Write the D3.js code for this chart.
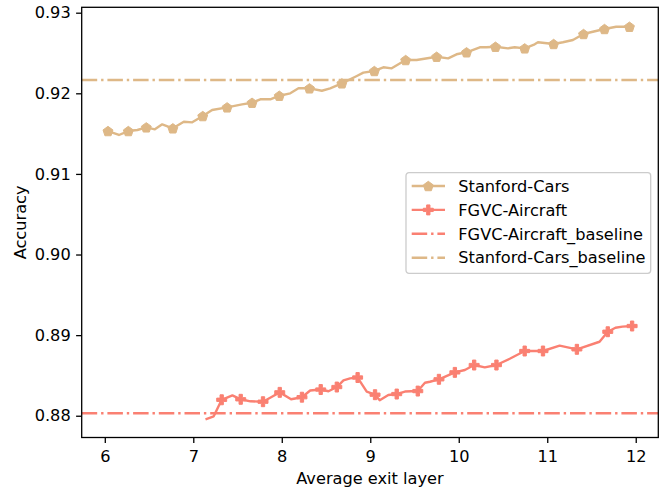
<!DOCTYPE html>
<html>
<head>
<meta charset="utf-8">
<script src="https://cdn.jsdelivr.net/npm/d3@7"></script>
<style>
  body { margin: 0; background: #fff; }
  text { font-family: "DejaVu Sans", sans-serif; }
</style>
</head>
<body>
<div class="draw"></div>
<script>
// Stanford-Cars curve (m = 1 where a marker is drawn)
var carsX = [6.036, 6.160, 6.266, 6.368, 6.469, 6.566, 6.649, 6.769, 6.893, 6.988, 7.107, 7.213, 7.382, 7.551,
    7.664, 7.758, 7.871, 7.972, 8.096, 8.189, 8.313, 8.453, 8.547, 8.679, 8.848, 8.922, 9.046, 9.148, 9.242,
    9.400, 9.524, 9.750, 9.880, 9.975, 10.088, 10.238, 10.313, 10.415, 10.557, 10.632, 10.745, 10.858, 10.895,
    11.072, 11.177, 11.290, 11.410, 11.515, 11.647, 11.779, 11.929];
var carsY = [0.91532, 0.91483, 0.91532, 0.91545, 0.91578, 0.91553, 0.91615, 0.91566, 0.91648, 0.91640, 0.91718,
    0.91793, 0.91826, 0.91863, 0.91883, 0.91926, 0.91926, 0.91970, 0.92000, 0.92062, 0.92062, 0.92032, 0.92062,
    0.92124, 0.92215, 0.92256, 0.92277, 0.92323, 0.92310, 0.92413, 0.92413, 0.92454, 0.92434, 0.92484, 0.92509,
    0.92571, 0.92571, 0.92578, 0.92558, 0.92571, 0.92558, 0.92608, 0.92633, 0.92612, 0.92633, 0.92661, 0.92736,
    0.92764, 0.92798, 0.92826, 0.92826];
var carsM = [1, 0, 1, 0, 1, 0, 0, 1, 0, 0, 1, 0, 1, 0, 1, 0, 0, 1, 0, 0, 1, 0, 0, 1, 0, 0, 1, 0, 0, 1, 0, 1, 0, 0, 1,
    0, 0, 1, 0, 0, 1, 0, 0, 1, 0, 0, 1, 0, 1, 0, 1];

// FGVC-Aircraft curve
var airX = [7.138, 7.231, 7.321, 7.442, 7.536, 7.645, 7.788, 7.889, 7.977, 8.105, 8.228, 8.321, 8.440, 8.528,
    8.622, 8.697, 8.772, 8.857, 8.960, 9.054, 9.107, 9.204, 9.299, 9.392, 9.537, 9.618, 9.674, 9.776, 9.956,
    10.069, 10.174, 10.294, 10.426, 10.576, 10.745, 10.952, 11.140, 11.335, 11.591, 11.684, 11.771, 11.850, 11.959];
var airY = [0.87956, 0.87993, 0.88198, 0.88253, 0.88204, 0.88179, 0.88174, 0.88236, 0.88290, 0.88205, 0.88230,
    0.88313, 0.88325, 0.88304, 0.88356, 0.88439, 0.88464, 0.88474, 0.88298, 0.88261, 0.88191, 0.88257, 0.88269,
    0.88300, 0.88306, 0.88409, 0.88422, 0.88452, 0.88538, 0.88567, 0.88629, 0.88600, 0.88629, 0.88707, 0.88803,
    0.88803, 0.88869, 0.88824, 0.88918, 0.89042, 0.89092, 0.89105, 0.89113];
var airM = [0, 0, 1, 0, 1, 0, 1, 0, 1, 0, 1, 0, 1, 0, 1, 0, 0, 1, 0, 1, 0, 0, 1, 0, 1, 0, 0, 1, 1, 0, 1, 0, 1, 0,
    1, 1, 0, 1, 0, 1, 0, 0, 1];

var carsBaseline = 0.92165;
var airBaseline = 0.88030;

var xTicks = [6, 7, 8, 9, 10, 11, 12];
var yTicks = [0.88, 0.89, 0.90, 0.91, 0.92, 0.93];
var legendNames = ["Stanford-Cars", "FGVC-Aircraft", "FGVC-Aircraft_baseline", "Stanford-Cars_baseline"];

var carsColor = "#deb887";
var airColor = "#fa8072";

var width = 672, height = 487;
var margin = { left: 81.7, right: 13.7, top: 7.3, bottom: 49.5 };
var fontSize = 16.2;
var lw = 2.4;

var svg = d3.select(".draw").append("svg")
    .attr("width", width)
    .attr("height", height);

var x = d3.scaleLinear().domain([5.739, 12.255]).range([margin.left, width - margin.right]);
var y = d3.scaleLinear().domain([0.87730, 0.93067]).range([height - margin.bottom, margin.top]);

function zip(xs, ys, ms) {
    return xs.map(function (d, i) { return { x: d, y: ys[i], m: ms[i] }; });
}
var cars = zip(carsX, carsY, carsM);
var air = zip(airX, airY, airM);

// pentagon, point up
function pentagon(r) {
    var pts = [];
    for (var i = 0; i < 5; i++) {
        var a = -Math.PI / 2 + i * 2 * Math.PI / 5;
        pts.push([r * Math.cos(a), r * Math.sin(a) + r * 0.1]);
    }
    return "M" + pts.join("L") + "Z";
}
var pentPath = pentagon(5.2);
var crossPath = d3.symbol().type(d3.symbolCross).size(55)();

var dashDot = "15.5,3.9,2.4,3.9";

// baselines
function baseline(v, color) {
    svg.append("line")
        .attr("x1", margin.left).attr("x2", width - margin.right)
        .attr("y1", y(v)).attr("y2", y(v))
        .attr("stroke", color).attr("stroke-width", lw)
        .attr("stroke-dasharray", dashDot);
}
baseline(airBaseline, airColor);
baseline(carsBaseline, carsColor);

var line = d3.line()
    .x(function (d) { return x(d.x); })
    .y(function (d) { return y(d.y); });

function drawSeries(data, color, shape) {
    svg.append("path")
        .datum(data)
        .attr("d", line)
        .attr("fill", "none")
        .attr("stroke", color)
        .attr("stroke-width", lw)
        .attr("stroke-linejoin", "round");
    svg.selectAll(null)
        .data(data.filter(function (d) { return d.m; }))
        .enter().append("path")
        .attr("d", shape)
        .attr("transform", function (d) { return "translate(" + x(d.x) + "," + y(d.y) + ")"; })
        .attr("fill", color)
        .attr("stroke", color)
        .attr("stroke-width", 1);
}
drawSeries(cars, carsColor, pentPath);
drawSeries(air, airColor, crossPath);

// axes
var xAxis = d3.axisBottom(x).tickValues(xTicks).tickSize(5.6).tickPadding(7.6)
    .tickFormat(d3.format("d"));
var yAxis = d3.axisLeft(y).tickValues(yTicks).tickSize(5.6).tickPadding(5.4)
    .tickFormat(d3.format(".2f"));

var gx = svg.append("g")
    .attr("transform", "translate(0," + (height - margin.bottom) + ")")
    .call(xAxis);
var gy = svg.append("g")
    .attr("transform", "translate(" + margin.left + ",0)")
    .call(yAxis);
[gx, gy].forEach(function (g) {
    g.select(".domain").remove();
    g.selectAll(".tick line").attr("stroke", "#000").attr("stroke-width", 1.3);
    g.selectAll(".tick text").attr("font-size", fontSize).attr("fill", "#000")
        .style("font-family", "DejaVu Sans");
});

// frame
svg.append("rect")
    .attr("x", margin.left).attr("y", margin.top)
    .attr("width", width - margin.left - margin.right)
    .attr("height", height - margin.top - margin.bottom)
    .attr("fill", "none").attr("stroke", "#000").attr("stroke-width", 1.3);

svg.append("text")
    .attr("x", (margin.left + width - margin.right) / 2)
    .attr("y", 483.5)
    .attr("text-anchor", "middle")
    .attr("font-size", fontSize)
    .text("Average exit layer");
svg.append("text")
    .attr("transform", "translate(26," + ((margin.top + height - margin.bottom) / 2) + ") rotate(-90)")
    .attr("text-anchor", "middle")
    .attr("font-size", fontSize)
    .text("Accuracy");

// legend
var lg = svg.append("g").attr("transform", "translate(406,172.7)");
lg.append("rect")
    .attr("width", 244.7).attr("height", 100.6)
    .attr("rx", 3)
    .attr("fill", "#fff").attr("fill-opacity", 0.8)
    .attr("stroke", "#cccccc").attr("stroke-width", 1.3);
var legendStyle = [
    { color: carsColor, dash: null, shape: pentPath },
    { color: airColor, dash: null, shape: crossPath },
    { color: airColor, dash: dashDot, shape: null },
    { color: carsColor, dash: dashDot, shape: null }
];
legendNames.forEach(function (name, i) {
    var cy = 13.3 + i * 23.9;
    var s = legendStyle[i];
    lg.append("line")
        .attr("x1", 5.7).attr("x2", 39)
        .attr("y1", cy).attr("y2", cy)
        .attr("stroke", s.color).attr("stroke-width", lw)
        .attr("stroke-dasharray", s.dash);
    if (s.shape) {
        lg.append("path")
            .attr("d", s.shape)
            .attr("transform", "translate(22.3," + cy + ")")
            .attr("fill", s.color).attr("stroke", s.color).attr("stroke-width", 1);
    }
    lg.append("text")
        .attr("x", 52.3).attr("y", cy + 5.8)
        .attr("font-size", fontSize)
        .text(name);
});
</script>
</body>
</html>
